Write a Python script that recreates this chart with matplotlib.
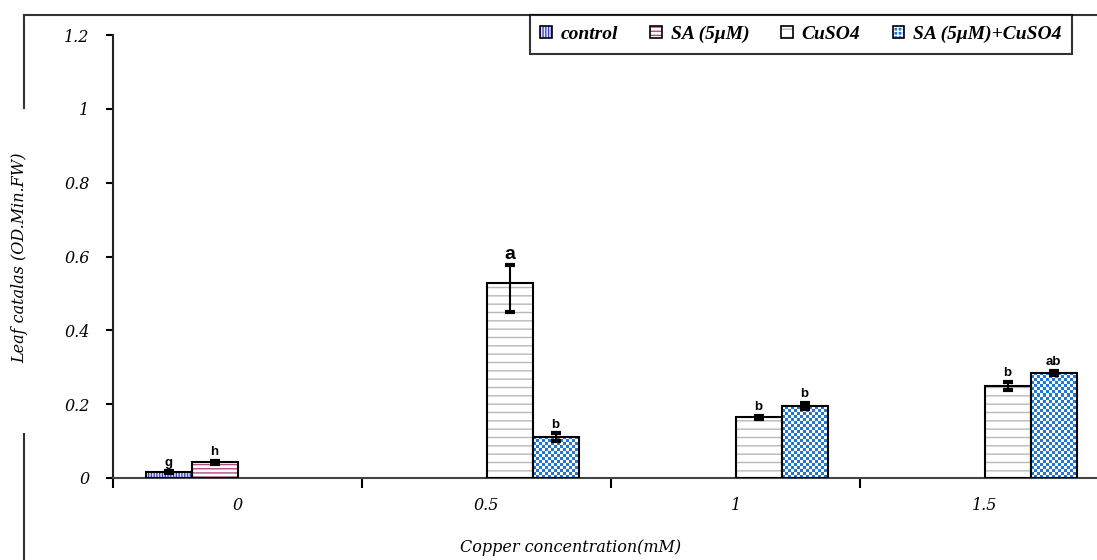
import numpy as np
import matplotlib
matplotlib.use("Agg")
import matplotlib.pyplot as plt
from matplotlib.patches import Patch
from matplotlib.colors import ListedColormap
from matplotlib.lines import Line2D

# ---------------- data ----------------
categories = ["0", "0.5", "1", "1.5"]
series = ["control", "SA (5\u03bcM)", "CuSO4", "SA (5\u03bcM)+CuSO4"]
control = [0.016, np.nan, np.nan, np.nan]
sa = [0.043, np.nan, np.nan, np.nan]
cuso4 = [np.nan, 0.527, 0.165, 0.249]
sa_cuso4 = [np.nan, 0.111, 0.195, 0.284]
control_err = [0.002, 0, 0, 0]
sa_err = [0.004, 0, 0, 0]
cuso4_err_low = [0, 0.078, 0.004, 0.010]
cuso4_err_high = [0, 0.049, 0.004, 0.012]
sa_cuso4_err = [0, 0.010, 0.008, 0.006]
control_letters = ["g", "", "", ""]
sa_letters = ["h", "", "", ""]
cuso4_letters = ["", "a", "b", "b"]
sa_cuso4_letters = ["", "b", "b", "ab"]
yticks = [0, 0.2, 0.4, 0.6, 0.8, 1.0, 1.2]
ytick_labels = ["0", "0.2", "0.4", "0.6", "0.8", "1", "1.2"]

# ---------------- figure ----------------
W, H = 1097, 560
fig = plt.figure(figsize=(W / 100, H / 100), dpi=100)
fig.patch.set_facecolor("white")

ax_left, ax_right = 113, 113 + 4 * 249
ax_top, ax_bottom = 35, 478
ax = fig.add_axes([ax_left / W, 1 - ax_bottom / H,
                   (ax_right - ax_left) / W, (ax_bottom - ax_top) / H])
ax.set_xlim(0, 4)
ax.set_ylim(0, 1.2)
ax.set_facecolor("white")

serif = "DejaVu Serif"
legserif = "Liberation Serif"
sans = "Liberation Sans"

x = np.arange(len(categories)) + 0.5
w = 46 / 249
offsets = [-1.5 * w, -0.5 * w, 0.5 * w, 1.5 * w]

styles = [
    dict(face="#e8e8ff", hatch="||||||", hcolor="#4444cc"),
    dict(face="white", hatch="----", hcolor="#b04a82"),
    dict(face="white", hatch="--", hcolor="#b8b8b8"),
    dict(face="white", hatch=None, hcolor="#1f77d6"),
]

plt.rcParams["hatch.linewidth"] = 1.0

data = [control, sa, cuso4, sa_cuso4]
errs = [
    [control_err, control_err],
    [sa_err, sa_err],
    [cuso4_err_low, cuso4_err_high],
    [sa_cuso4_err, sa_cuso4_err],
]
letters = [control_letters, sa_letters, cuso4_letters, sa_cuso4_letters]

# checkerboard for the SA+CuSO4 series
ny, nx = int((ax_bottom - ax_top) / 3), int((ax_right - ax_left) / 3)
checker = (np.indices((ny, nx)).sum(axis=0) % 2).astype(float)
checker_cmap = ListedColormap(["white", "#1f77d6"])

handles = []
for i, (vals, st) in enumerate(zip(data, styles)):
    xpos = x + offsets[i]
    if st["hatch"] is not None:
        ax.bar(xpos, vals, w, color=st["face"], edgecolor=st["hcolor"],
               hatch=st["hatch"], linewidth=0, zorder=2)
        h1 = Patch(facecolor=st["face"], edgecolor=st["hcolor"], hatch=st["hatch"], linewidth=0)
    else:
        base = ax.bar(xpos, vals, w, color="white", linewidth=0, zorder=2)
        for b in base.patches:
            if np.isnan(b.get_height()):
                continue
            im = ax.imshow(checker, cmap=checker_cmap, interpolation="nearest",
                           extent=(0, 1, 0, 1), transform=ax.transAxes,
                           aspect="auto", zorder=2.5)
            im.set_clip_path(b)
        h1 = Patch(facecolor="#1f77d6", edgecolor="white", hatch="++++", linewidth=0)
    ax.bar(xpos, vals, w, fill=False, edgecolor="black", linewidth=1.5, zorder=3)
    h2 = Patch(fill=False, edgecolor="black", linewidth=1.2)
    handles.append((h1, h2))

    yerr = np.array(errs[i])
    ax.errorbar(xpos, vals, yerr=yerr, fmt="none", ecolor="black",
                elinewidth=1.5, capsize=3.5, capthick=3, zorder=4)
    for j, lab in enumerate(letters[i]):
        if not lab:
            continue
        top = vals[j] + errs[i][1][j]
        ax.annotate(lab, (xpos[j], top), xytext=(0, 2), textcoords="offset points",
                    ha="center", va="bottom", fontsize=14 if lab == "a" else 9.5,
                    fontweight="bold", family=sans, zorder=5)

# axes styling
for s in ["top", "right"]:
    ax.spines[s].set_visible(False)
ax.spines["left"].set_linewidth(1.5)
ax.spines["bottom"].set_linewidth(1.5)
ax.spines["bottom"].set_color("#444444")
ax.spines["left"].set_color("#222222")

ax.set_yticks(yticks)
ax.set_yticklabels(ytick_labels, fontsize=11.5, family=serif, style="italic")
ax.tick_params(axis="y", direction="out", length=5, width=1.5, pad=12)

ax.set_xticks(np.arange(0, 5))
ax.set_xticklabels([])
ax.set_xticks(x, minor=True)
ax.set_xticklabels(categories, minor=True, fontsize=11.5, family=serif, style="italic")
ax.tick_params(axis="x", which="major", direction="out", length=7, width=1.5)
ax.tick_params(axis="x", which="minor", length=0, pad=14)

# labels
fig.text(20 / W, 1 - 258 / H, "Leaf catalas (OD.Min.FW)", rotation=90,
         ha="center", va="center", fontsize=11.5, family=serif, style="italic")
fig.text(571 / W, 1 - 548 / H, "Copper concentration(mM)",
         ha="center", va="center", fontsize=11.5, family=serif, style="italic")

# outer frame fragments
frame_kw = dict(color="#333333", linewidth=1.5, transform=fig.transFigure)
fig.add_artist(Line2D([24 / W, 1], [1 - 15 / H, 1 - 15 / H], **frame_kw))
fig.add_artist(Line2D([24 / W, 24 / W], [1 - 15 / H, 1 - 108 / H], **frame_kw))
fig.add_artist(Line2D([24 / W, 24 / W], [1 - 434 / H, 0], **frame_kw))

# legend
leg = fig.legend(handles, series, loc="upper right",
                 bbox_to_anchor=(1072 / W, 1 - 15 / H), ncol=4,
                 prop=dict(family=legserif, style="italic", weight="bold", size=14),
                 frameon=True, fancybox=False, shadow=False,
                 handlelength=0.6, handleheight=0.6, handletextpad=0.45,
                 columnspacing=1.65, borderpad=0.55, borderaxespad=0)
leg.get_frame().set_edgecolor("black")
leg.get_frame().set_linewidth(1.5)

fig.savefig("out.png", dpi=100, facecolor="white")
